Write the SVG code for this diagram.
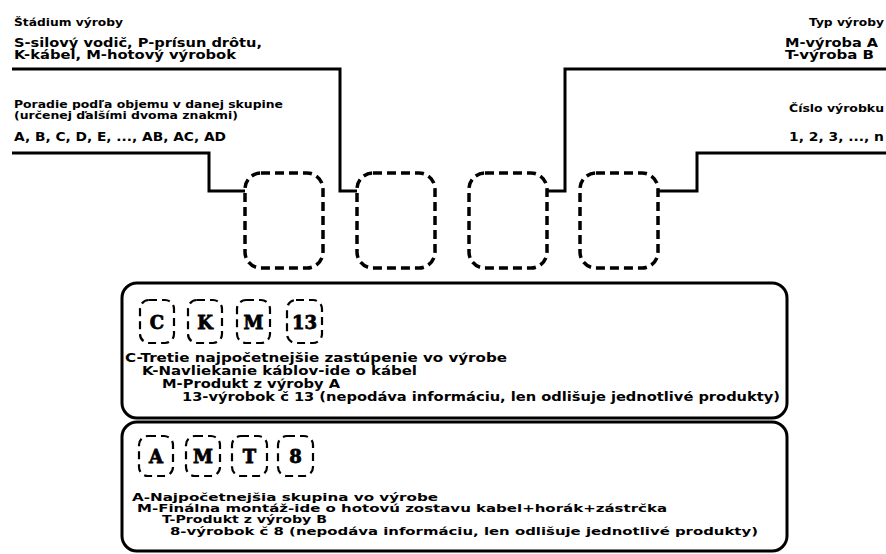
<svg xmlns="http://www.w3.org/2000/svg" width="886" height="554" viewBox="0 0 886 554">
<style>
text{font-family:"DejaVu Sans","Liberation Sans",sans-serif;font-weight:bold;fill:#000}
.s{font-size:10.5px}
.m{font-size:12px}
.b{font-size:12px}
.b2{font-size:11px}
.big{fill:none;stroke:#000;stroke-width:3.5;stroke-dasharray:9 5}
.sm{fill:none;stroke:#000;stroke-width:2.2;stroke-dasharray:8 5}
.pan{fill:#fff;stroke:#000;stroke-width:3}
.ln{fill:none;stroke:#000;stroke-width:3}
.lt{font-family:"DejaVu Serif","Liberation Serif",serif;font-size:18px;font-weight:bold;stroke:#000;stroke-width:0.8}
</style>
<rect width="886" height="554" fill="#fff"/>
<g id="connectors">
<path class="ln" d="M12 69 H340 V191 H357"/>
<path class="ln" d="M12 153 H209 V191 H245"/>
<path class="ln" d="M886 69 H565 V191 H547"/>
<path class="ln" d="M886 153 H697 V191 H658"/>
</g>
<g id="label-stadium">
<text class="s" x="14" y="26" textLength="109" lengthAdjust="spacingAndGlyphs">Štádium výroby</text>
<text class="m" x="14" y="47" textLength="248" lengthAdjust="spacingAndGlyphs">S-silový vodič, P-prísun drôtu,</text>
<text class="m" x="14" y="59" textLength="222" lengthAdjust="spacingAndGlyphs">K-kábel, M-hotový výrobok</text>
</g>
<g id="label-poradie">
<text class="s" x="14" y="108" textLength="269" lengthAdjust="spacingAndGlyphs">Poradie podľa objemu v danej skupine</text>
<text class="s" x="14" y="119" textLength="224" lengthAdjust="spacingAndGlyphs">(určenej ďalšími dvoma znakmi)</text>
<text class="m" x="14" y="141" textLength="212" lengthAdjust="spacingAndGlyphs">A, B, C, D, E, ..., AB, AC, AD</text>
</g>
<g id="label-typ">
<text class="s" x="809" y="26" textLength="75" lengthAdjust="spacingAndGlyphs">Typ výroby</text>
<text class="m" x="785" y="47" textLength="93" lengthAdjust="spacingAndGlyphs">M-výroba A</text>
<text class="m" x="785" y="59" textLength="89" lengthAdjust="spacingAndGlyphs">T-výroba B</text>
</g>
<g id="label-cislo">
<text class="s" x="789" y="112" textLength="95" lengthAdjust="spacingAndGlyphs">Číslo výrobku</text>
<text class="m" x="789" y="141" textLength="95" lengthAdjust="spacingAndGlyphs">1, 2, 3, ..., n</text>
</g>
<g id="box1"><rect class="big" x="245" y="173" width="78" height="95" rx="16"/></g>
<g id="box2"><rect class="big" x="357" y="173" width="78" height="95" rx="16"/></g>
<g id="box3"><rect class="big" x="469" y="173" width="78" height="95" rx="16"/></g>
<g id="box4"><rect class="big" x="580" y="173" width="78" height="95" rx="16"/></g>
<g id="panel1">
<rect class="pan" x="122" y="283" width="665" height="135" rx="15"/>
<rect class="sm" x="140" y="300" width="34" height="43" rx="9"/>
<rect class="sm" x="188" y="300" width="34" height="43" rx="9"/>
<rect class="sm" x="237" y="300" width="33" height="43" rx="9"/>
<rect class="sm" x="287" y="300" width="35" height="43" rx="9"/>
<text class="lt" x="157" y="329" text-anchor="middle">C</text>
<text class="lt" x="205" y="329" text-anchor="middle">K</text>
<text class="lt" x="253.5" y="329" text-anchor="middle">M</text>
<text class="lt" x="304.5" y="329" text-anchor="middle">13</text>
<text class="b" x="125" y="362" textLength="382" lengthAdjust="spacingAndGlyphs">C-Tretie najpočetnejšie zastúpenie vo výrobe</text>
<text class="b" x="142" y="375" textLength="275" lengthAdjust="spacingAndGlyphs">K-Navliekanie káblov-ide o kábel</text>
<text class="b" x="162" y="388" textLength="178" lengthAdjust="spacingAndGlyphs">M-Produkt z výroby A</text>
<text class="b" x="182" y="401" textLength="598" lengthAdjust="spacingAndGlyphs">13-výrobok č 13 (nepodáva informáciu, len odlišuje jednotlivé produkty)</text>
</g>
<g id="panel2">
<rect class="pan" x="122" y="422" width="665" height="129" rx="15"/>
<rect class="sm" x="139" y="436" width="34" height="40" rx="9"/>
<rect class="sm" x="186" y="436" width="34" height="40" rx="9"/>
<rect class="sm" x="232" y="436" width="35" height="40" rx="9"/>
<rect class="sm" x="278" y="436" width="35" height="40" rx="9"/>
<text class="lt" x="156" y="463" text-anchor="middle">A</text>
<text class="lt" x="203" y="463" text-anchor="middle">M</text>
<text class="lt" x="249.5" y="463" text-anchor="middle">T</text>
<text class="lt" x="295.5" y="463" text-anchor="middle">8</text>
<text class="b2" x="132" y="501" textLength="306" lengthAdjust="spacingAndGlyphs">A-Najpočetnejšia skupina vo výrobe</text>
<text class="b2" x="137" y="512" textLength="530" lengthAdjust="spacingAndGlyphs">M-Finálna montáž-ide o hotovú zostavu kabel+horák+zástrčka</text>
<text class="b2" x="162" y="523" textLength="165" lengthAdjust="spacingAndGlyphs">T-Produkt z výroby B</text>
<text class="b2" x="170" y="535" textLength="588" lengthAdjust="spacingAndGlyphs">8-výrobok č 8 (nepodáva informáciu, len odlišuje jednotlivé produkty)</text>
</g>
</svg>
